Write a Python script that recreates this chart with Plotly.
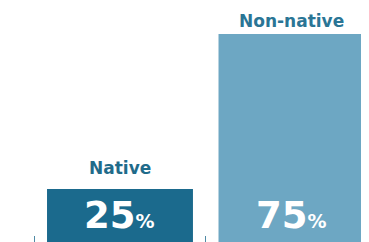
import plotly.graph_objects as go

categories = ["Native", "Non-native"]
values = [25, 75]
bar_colors = ["#1b6a8d", "#6da7c3"]
label_colors = ["#1f6b8a", "#2a7595"]
label_shift = [9, 1]

fig = go.Figure()
fig.add_trace(go.Bar(
    x=categories, y=values,
    marker=dict(color=bar_colors, line=dict(width=0)),
    hoverinfo="skip",
))

FONT = "DejaVu Sans"
for i, (c, v) in enumerate(zip(categories, values)):
    fig.add_annotation(
        x=c, y=v, yref="y", xref="x",
        text=f"<b>{c}</b>", showarrow=False,
        yanchor="bottom", yshift=label_shift[i],
        font=dict(family=FONT, size=17, color=label_colors[i]),
    )
    fig.add_annotation(
        x=c, y=0.115, yref="paper", xref="x",
        text=f"<b>{v}</b><b><span style='font-size:19px'>%</span></b>",
        showarrow=False, yanchor="middle",
        font=dict(family=FONT, size=37, color="white"),
    )

fig.update_layout(
    width=361, height=234,
    margin=dict(l=0, r=0, t=0, b=0),
    paper_bgcolor="white", plot_bgcolor="white",
    bargap=0.149,
    showlegend=False,
    xaxis=dict(
        type="category", range=[-0.653, 1.452],
        showticklabels=False, showgrid=False, zeroline=False,
        showline=False, ticks="inside", ticklen=6, tickwidth=1,
        tickcolor="#4f8aa5", tickson="boundaries",
    ),
    yaxis=dict(range=[7.9, 83.4], visible=False),
)

fig.write_html("out.html")
